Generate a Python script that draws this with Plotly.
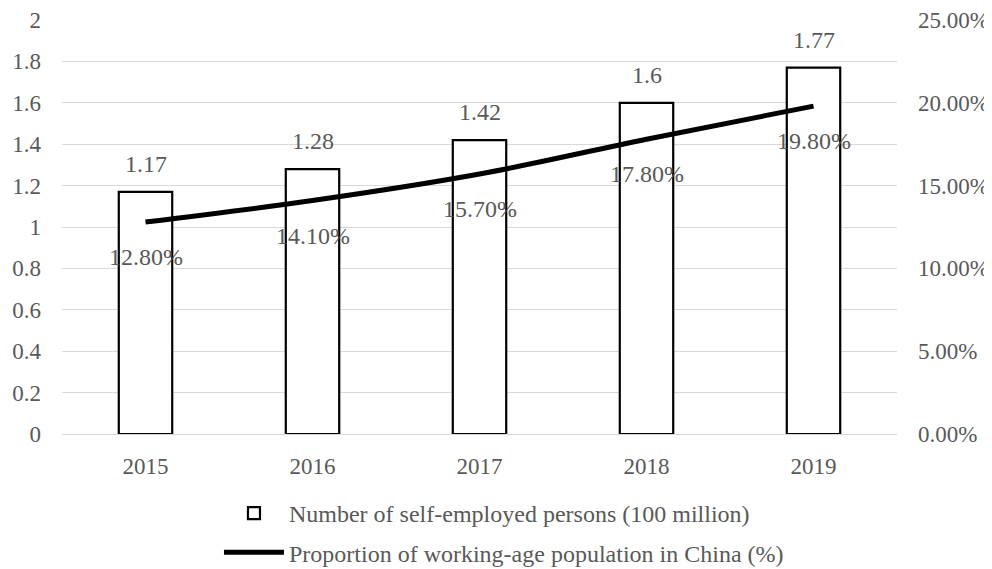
import plotly.graph_objects as go

years = ["2015", "2016", "2017", "2018", "2019"]
self_employed = [1.17, 1.28, 1.42, 1.6, 1.77]
working_age_share = [0.128, 0.141, 0.157, 0.178, 0.198]
bar_labels = ["1.17", "1.28", "1.42", "1.6", "1.77"]
line_labels = ["12.80%", "14.10%", "15.70%", "17.80%", "19.80%"]
left_ticks = [0, 0.2, 0.4, 0.6, 0.8, 1, 1.2, 1.4, 1.6, 1.8, 2]
left_tick_text = ["0", "0.2", "0.4", "0.6", "0.8", "1", "1.2", "1.4", "1.6", "1.8", "2"]
right_ticks = [0, 0.05, 0.10, 0.15, 0.20, 0.25]
right_tick_text = ["0.00%", "5.00%", "10.00%", "15.00%", "20.00%", "25.00%"]

FONT = "Liberation Serif, Times New Roman, serif"
GREY = "#595959"

fig = go.Figure()
fig.add_trace(go.Bar(
    x=years, y=self_employed, name="Number of self-employed persons (100 million)",
    marker=dict(color="white", line=dict(color="black", width=2.2)),
    width=0.32, legendgroup="a",
))
fig.add_trace(go.Scatter(
    x=years, y=working_age_share, name="Proportion of working-age population in China (%)",
    yaxis="y2", mode="lines", line=dict(color="black", width=5, shape="spline"),
    legendgroup="b",
))

annotations = []
for i, (yv, t) in enumerate(zip(self_employed, bar_labels)):
    annotations.append(dict(x=i, y=yv, xref="x", yref="y", text=t, showarrow=False,
                            yshift=28, font=dict(family=FONT, size=24, color=GREY)))
for i, (yv, t) in enumerate(zip(working_age_share, line_labels)):
    annotations.append(dict(x=i, y=yv, xref="x", yref="y2", text=t, showarrow=False,
                            yshift=-35, font=dict(family=FONT, size=24, color=GREY)))

fig.update_layout(
    width=984, height=561,
    margin=dict(l=54, r=95, t=12, b=135, autoexpand=False),
    paper_bgcolor="white", plot_bgcolor="white",
    font=dict(family=FONT, size=23, color=GREY),
    showlegend=True,
    annotations=annotations,
    legend=dict(orientation="v", x=0.2144, xref="container", xanchor="left",
                y=0.139, yref="container", yanchor="top",
                font=dict(family=FONT, size=24, color=GREY), tracegroupgap=5,
                itemwidth=60, bgcolor="rgba(0,0,0,0)"),
    xaxis=dict(type="category", showgrid=False, showline=True, linecolor="#D9D9D9",
               linewidth=1.3, ticks="", tickfont=dict(size=23), ticklabelstandoff=11,
               ticklabeloverflow="allow"),
    yaxis=dict(range=[0, 2], tickvals=left_ticks, ticktext=left_tick_text,
               showgrid=True, gridcolor="#D9D9D9", gridwidth=1.3, zeroline=False,
               showline=False, ticks="", ticklabelstandoff=20, ticklabeloverflow="allow"),
    yaxis2=dict(range=[0, 0.25], tickvals=right_ticks, ticktext=right_tick_text,
                overlaying="y", side="right", showgrid=False, zeroline=False,
                showline=False, ticks="", ticklabelstandoff=20, ticklabeloverflow="allow"),
)
fig.write_html("out.html")
